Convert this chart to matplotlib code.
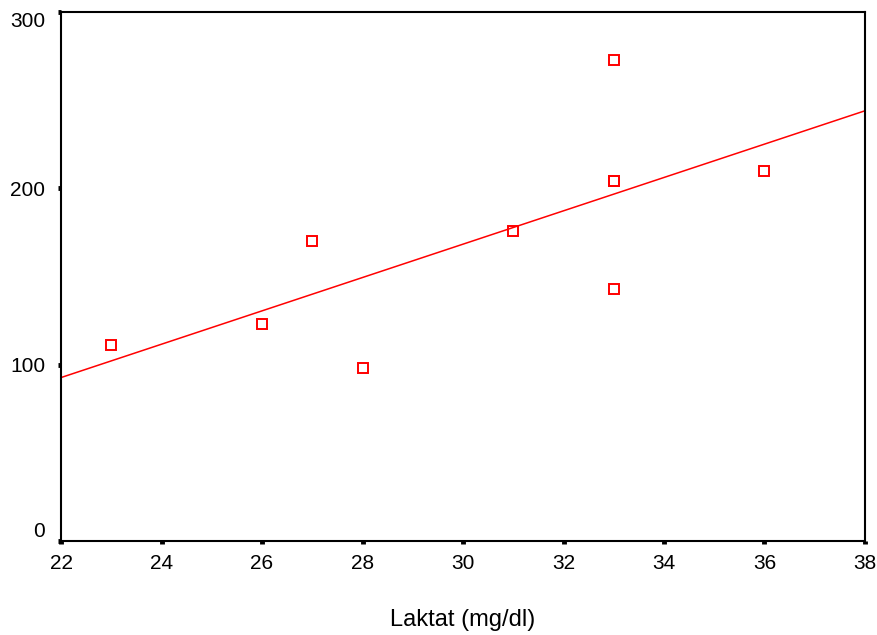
import numpy as np
import matplotlib
matplotlib.use('Agg')
import matplotlib.pyplot as plt

plt.rcParams['font.family'] = ['Liberation Sans', 'DejaVu Sans']

# Laktat (mg/dl) und zugehoerige Werte
laktat = [23, 26, 27, 28, 31, 33, 33, 33, 33, 36]
werte = [111, 123, 170, 98, 176, 273, 204, 204, 143, 210]
x_ticks = [22, 24, 26, 28, 30, 32, 34, 36, 38]
y_ticks = [0, 100, 200, 300]

fig = plt.figure(figsize=(8.77, 6.35), dpi=100)
ax = fig.add_axes([0.0696, 0.148, 0.9167, 0.833])

# Regressionsgerade
b, a = np.polyfit(laktat, werte, 1)
xs = np.array([22, 38])
ax.plot(xs, a + b * xs, color='red', lw=1.1)

ax.plot(laktat, werte, 's', ms=6.5, mfc='none', mec='red', mew=1.4)

ax.set_xlim(22, 38)
ax.set_ylim(0, 300)
ax.set_xticks(x_ticks)
ax.set_yticks(y_ticks)
ax.tick_params(direction='out', length=2.5, width=3.5, labelsize=15,
               color='black')
ax.tick_params(axis='y', pad=9)
ax.tick_params(axis='x', pad=7)
for s in ax.spines.values():
    s.set_linewidth(1.5)

labels = ax.get_yticklabels()
labels[0].set_va('bottom')
labels[-1].set_va('top')

ax.set_xlabel('Laktat (mg/dl)', fontsize=17, labelpad=26)

fig.savefig('out.png', dpi=100)
